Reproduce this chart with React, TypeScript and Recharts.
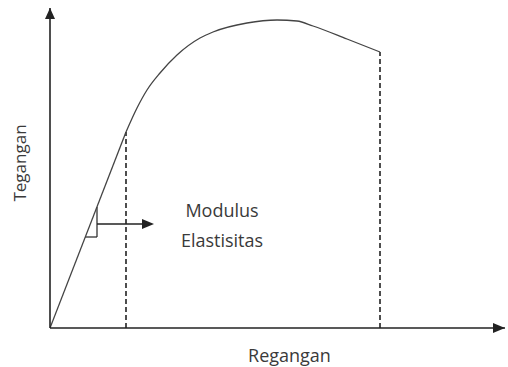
import { Line, LineChart, ReferenceDot, ReferenceLine, XAxis, YAxis } from "recharts";

// elastic region (straight) and plastic region (curve)
const elasticStrain = [0, 76];
const elasticStress = [0, 196];
const plasticStrain = [76, 87, 97, 110, 127, 150, 163, 197, 227, 247, 263, 297, 330];
const plasticStress = [196, 220, 238, 255, 273, 290, 296, 305, 308, 307, 302, 289, 276];

const yieldStrain = 76;
const yieldStress = 196;
const breakStrain = 330;
const breakStress = 276;

const xMax = 455;
const yMax = 320;

const noteLines = ["Modulus", "Elastisitas"];
const noteX = 172;
const noteY = [118, 88];

const elastic = elasticStrain.map((s, i) => ({ strain: s, stress: elasticStress[i] }));
const plastic = plasticStrain.map((s, i) => ({ strain: s, stress: plasticStress[i] }));

const ink = "#222";
const textColor = "#3a3a3a";
const font = "'Open Sans', 'Noto Sans', sans-serif";

type DotProps = { cx?: number; cy?: number };

const arrowUp = ({ cx = 0, cy = 0 }: DotProps) => (
  <path d={`M${cx},${cy} L${cx - 5},${cy + 11} L${cx + 5},${cy + 11} Z`} fill={ink} />
);

const arrowRight = ({ cx = 0, cy = 0 }: DotProps) => (
  <path d={`M${cx},${cy} L${cx - 12},${cy - 5} L${cx - 12},${cy + 5} Z`} fill={ink} />
);

const noteText = (text: string) => ({ cx = 0, cy = 0 }: DotProps) => (
  <text x={cx} y={cy} textAnchor="middle" dominantBaseline="central" fill={textColor} fontSize={18} fontFamily={font}>
    {text}
  </text>
);

export default function App() {
  return (
    <div style={{ position: "absolute", left: 0, top: 0, background: "#fff" }}>
      <LineChart width={508} height={367} margin={{ top: 8, right: 3, left: 0, bottom: 0 }}>
        <XAxis
          type="number"
          dataKey="strain"
          domain={[0, xMax]}
          allowDataOverflow
          tick={false}
          tickLine={false}
          axisLine={{ stroke: ink, strokeWidth: 1.6 }}
          height={39}
          label={{ value: "Regangan", position: "center", dx: 12, dy: 8, fill: textColor, fontSize: 18, fontFamily: font }}
        />
        <YAxis
          type="number"
          domain={[0, yMax]}
          allowDataOverflow
          tick={false}
          tickLine={false}
          axisLine={{ stroke: ink, strokeWidth: 1.6 }}
          width={50}
          label={{ value: "Tegangan", position: "center", angle: -90, dx: -5, dy: -5, fill: textColor, fontSize: 17, fontFamily: font }}
        />

        <ReferenceLine segment={[{ x: yieldStrain, y: 0 }, { x: yieldStrain, y: yieldStress }]} stroke={ink} strokeWidth={1.6} strokeDasharray="5 3" />
        <ReferenceLine segment={[{ x: breakStrain, y: 0 }, { x: breakStrain, y: breakStress }]} stroke={ink} strokeWidth={1.6} strokeDasharray="5 3" />

        {/* slope triangle + pointer to the note */}
        <ReferenceLine segment={[{ x: 35, y: 91 }, { x: 47, y: 91 }]} stroke={ink} strokeWidth={1.2} />
        <ReferenceLine segment={[{ x: 47, y: 91 }, { x: 47, y: 121 }]} stroke={ink} strokeWidth={1.2} />
        <ReferenceLine segment={[{ x: 47, y: 104 }, { x: 100, y: 104 }]} stroke={ink} strokeWidth={1.4} />
        <ReferenceDot x={104} y={104} r={0} shape={arrowRight} />

        <ReferenceDot x={0} y={yMax} r={0} shape={arrowUp} ifOverflow="visible" />
        <ReferenceDot x={xMax} y={0} r={0} shape={arrowRight} ifOverflow="visible" />

        {noteLines.map((t, i) => (
          <ReferenceDot key={t} x={noteX} y={noteY[i]} r={0} shape={noteText(t)} />
        ))}

        <Line data={elastic} dataKey="stress" type="linear" stroke="#444" strokeWidth={1.3} dot={false} isAnimationActive={false} />
        <Line data={plastic} dataKey="stress" type="monotone" stroke="#444" strokeWidth={1.3} dot={false} isAnimationActive={false} />
      </LineChart>
    </div>
  );
}
